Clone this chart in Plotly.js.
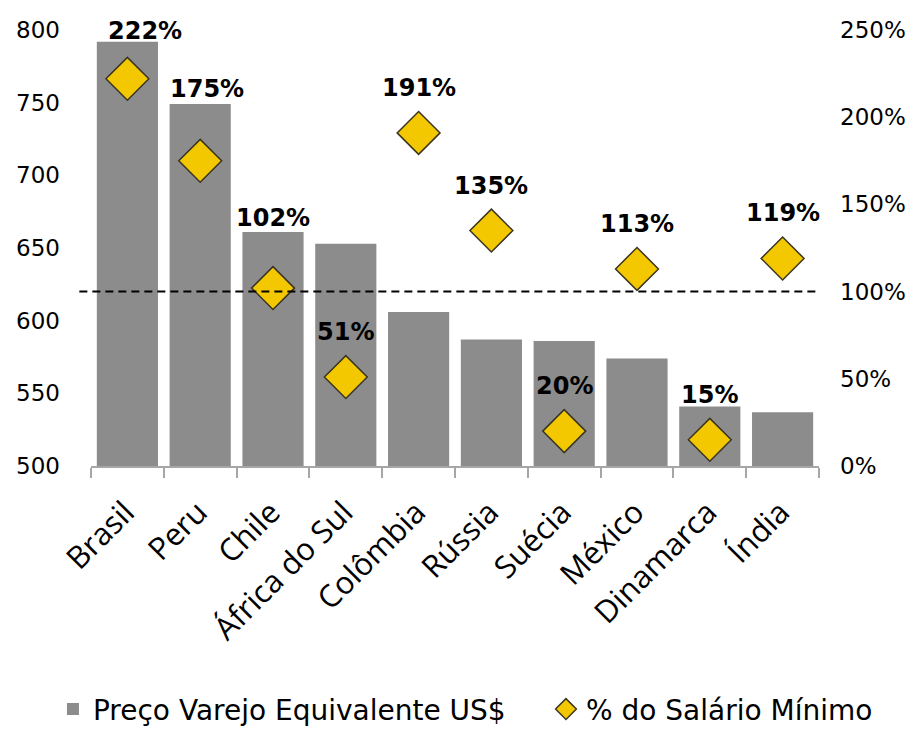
<!DOCTYPE html>
<html>
<head>
<meta charset="utf-8">
<script src="https://cdn.plot.ly/plotly-3.0.1.min.js"></script>
<style>html,body{margin:0;padding:0;background:#fff;}#chart{width:913px;height:729px;}</style>
</head>
<body>
<div id="chart"></div>
<script>
const countries = ["Brasil", "Peru", "Chile", "África do Sul", "Colômbia", "Rússia", "Suécia", "México", "Dinamarca", "Índia"];
const retailPrice = [792, 749, 661, 653, 606, 587, 586, 574, 541, 537];
const minWagePct = [222, 175, 102, 51, 191, 135, 20, 113, 15, 119];
const leftTicks = [500, 550, 600, 650, 700, 750, 800];
const rightTicks = [0, 50, 100, 150, 200, 250];
const referenceLine = 100;

// label offsets [x, y] in pixels for labels that were moved in the original
const labelOffset = {"Brasil": [18, 48], "Peru": [7, 72], "Chile": [0, 70]};
const defaultOffset = [0, 45];

const traces = [
  {
    type: "bar",
    name: "Preço Varejo Equivalente US$",
    x: countries,
    y: retailPrice,
    marker: {color: "#8c8c8c"},
    legend: "legend",
    hoverinfo: "x+y"
  },
  {
    type: "scatter",
    mode: "markers",
    name: "% do Salário Mínimo",
    x: countries,
    y: minWagePct,
    yaxis: "y2",
    legend: "legend2",
    marker: {symbol: "diamond", size: 33, color: "#f3c800", line: {color: "#3a3520", width: 1.5}},
    hoverinfo: "x+y"
  }
];

const annotations = countries.map((c, i) => {
  const off = labelOffset[c] || defaultOffset;
  return {
    x: c, y: minWagePct[i], xref: "x", yref: "y2",
    text: minWagePct[i] + "%",
    showarrow: false,
    xshift: off[0], yshift: off[1],
    font: {family: "DejaVu Sans", size: 24, color: "#000", weight: "bold"}
  };
});

const legendBase = {
  orientation: "h", xref: "container", yref: "container",
  xanchor: "left", y: 0.027, yanchor: "middle",
  font: {family: "DejaVu Sans", size: 28, color: "#000"},
  itemclick: false, bgcolor: "rgba(0,0,0,0)"
};

const layout = {
  width: 913, height: 729,
  margin: {l: 91, r: 94, t: 30, b: 263},
  paper_bgcolor: "#fff", plot_bgcolor: "#fff",
  font: {family: "DejaVu Sans", color: "#000"},
  bargap: 0.16,
  showlegend: true,
  legend: Object.assign({}, legendBase, {x: 0.058}),
  legend2: Object.assign({}, legendBase, {x: 0.598}),
  xaxis: {
    type: "category",
    range: [-0.5, countries.length - 0.5],
    tickangle: -45,
    tickfont: {family: "Open Sans", size: 31, color: "#000"},
    showline: true, linecolor: "#a6a6a6", linewidth: 1.5,
    ticks: "outside", tickson: "boundaries", ticklen: 10, tickcolor: "#a6a6a6", tickwidth: 1.5,
    ticklabelshift: -2, ticklabelstandoff: 14,
    showgrid: false, automargin: false, fixedrange: true
  },
  yaxis: {
    range: [500, 800],
    tickvals: leftTicks,
    ticktext: leftTicks.map(String),
    tickfont: {family: "DejaVu Sans", size: 23, color: "#000"},
    showgrid: false, zeroline: false, showline: false,
    ticklabelstandoff: 30,
    automargin: false, fixedrange: true
  },
  yaxis2: {
    overlaying: "y", side: "right",
    range: [0, 250],
    tickvals: rightTicks,
    ticktext: rightTicks.map(v => v + "%"),
    tickfont: {family: "DejaVu Sans", size: 23, color: "#000"},
    showgrid: false, zeroline: false, showline: false,
    ticklabelstandoff: 20,
    automargin: false, fixedrange: true
  },
  shapes: [{
    type: "line", xref: "paper", yref: "y2",
    x0: -0.016, x1: 1.0, y0: referenceLine, y1: referenceLine,
    line: {color: "#000", width: 2, dash: "8px,5px"},
    layer: "above"
  }],
  annotations: annotations
};

Plotly.newPlot("chart", traces, layout, {displayModeBar: false, staticPlot: false});
</script>
</body>
</html>
